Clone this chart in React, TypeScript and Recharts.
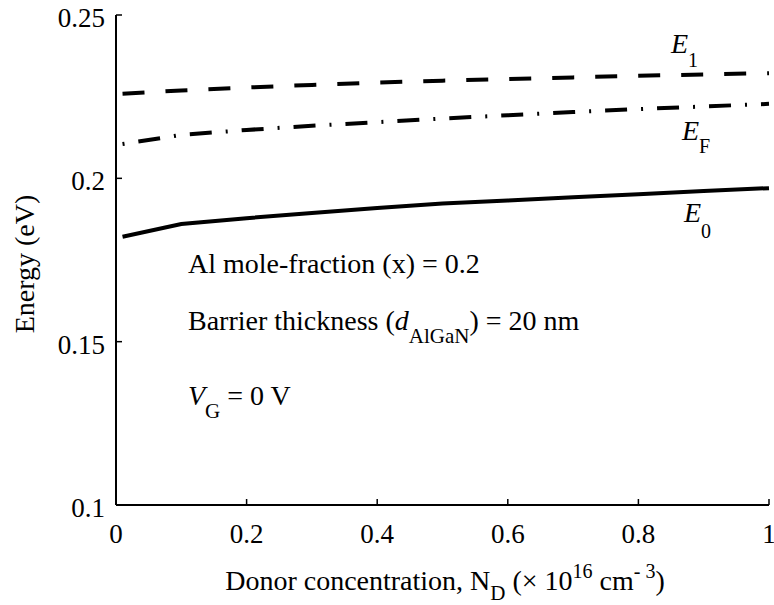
import { Line, LineChart, XAxis, YAxis } from 'recharts';

// donor concentration (x 10^16 cm^-3)
const donorConc = [0.01, 0.1, 0.2, 0.3, 0.4, 0.5, 0.6, 0.7, 0.8, 0.9, 1.0];

// energies in eV
const e1Values = [0.2259, 0.2269, 0.2278, 0.2286, 0.2293, 0.2299, 0.2304, 0.2309, 0.2314, 0.2318, 0.2322];
const efValues = [0.2105, 0.2133, 0.2148, 0.2161, 0.2172, 0.2183, 0.2193, 0.2203, 0.2212, 0.222, 0.2228];
const e0Values = [0.1821, 0.186, 0.1878, 0.1894, 0.1909, 0.1923, 0.1932, 0.1942, 0.1951, 0.1961, 0.197];

const xTicks = [0, 0.2, 0.4, 0.6, 0.8, 1];
const xTickLabels = ['0', '0.2', '0.4', '0.6', '0.8', '1'];
const yTicks = [0.1, 0.15, 0.2, 0.25];
const yTickLabels = ['0.1', '0.15', '0.2', '0.25'];

const data = donorConc.map((nd, i) => ({
    nd,
    e1: e1Values[i],
    ef: efValues[i],
    e0: e0Values[i],
}));

const FONT = "'Liberation Serif', 'Times New Roman', 'DejaVu Serif', serif";

function XTick({ x, y, payload }: any) {
    const i = xTicks.indexOf(payload.value);
    return (
        <text x={x} y={y} textAnchor="middle" fontFamily={FONT} fontSize={27} fill="#000">
            {i >= 0 ? xTickLabels[i] : payload.value}
        </text>
    );
}

function YTick({ x, y, payload }: any) {
    const i = yTicks.indexOf(payload.value);
    return (
        <text x={x} y={y + 12} textAnchor="end" fontFamily={FONT} fontSize={27} fill="#000">
            {i >= 0 ? yTickLabels[i] : payload.value}
        </text>
    );
}

export default function App() {
    const axisLine = { stroke: '#000', strokeWidth: 2 };
    const tickLine = { stroke: '#000', strokeWidth: 1.5 };
    return (
        <div style={{ position: 'absolute', left: 0, top: 0, width: 774, height: 605, background: '#fff' }}>
            <LineChart width={774} height={605} data={data} margin={{ top: 15, right: 5, bottom: 0, left: 0 }}>
                <XAxis
                    dataKey="nd"
                    type="number"
                    domain={[0, 1]}
                    ticks={xTicks}
                    height={100}
                    axisLine={axisLine}
                    tickLine={tickLine}
                    tickSize={-6}
                    tickMargin={44}
                    tick={<XTick />}
                    interval={0}
                />
                <XAxis
                    xAxisId="top"
                    orientation="top"
                    type="number"
                    domain={[0, 1]}
                    ticks={xTicks}
                    height={0}
                    axisLine={axisLine}
                    tickLine={tickLine}
                    tickSize={-6}
                    tick={false}
                    allowDataOverflow
                />
                <YAxis
                    type="number"
                    domain={[0.1, 0.25]}
                    ticks={yTicks}
                    width={116}
                    axisLine={axisLine}
                    tickLine={tickLine}
                    tickSize={-6}
                    tickMargin={17}
                    tick={<YTick />}
                    interval={0}
                    allowDataOverflow
                />
                <YAxis
                    yAxisId="right"
                    orientation="right"
                    type="number"
                    domain={[0.1, 0.25]}
                    ticks={yTicks}
                    width={0}
                    axisLine={axisLine}
                    tickLine={tickLine}
                    tickSize={-6}
                    tick={false}
                    allowDataOverflow
                />
                <Line
                    type="linear"
                    dataKey="e1"
                    stroke="#000"
                    strokeWidth={4}
                    strokeDasharray="22 21"
                    dot={false}
                    isAnimationActive={false}
                />
                <Line
                    type="linear"
                    dataKey="ef"
                    stroke="#000"
                    strokeWidth={4}
                    strokeDasharray="2 14 22 14"
                    dot={false}
                    isAnimationActive={false}
                />
                <Line
                    type="linear"
                    dataKey="e0"
                    stroke="#000"
                    strokeWidth={4}
                    dot={false}
                    isAnimationActive={false}
                />
            </LineChart>
            <svg
                width={774}
                height={605}
                style={{ position: 'absolute', left: 0, top: 0, pointerEvents: 'none' }}
                fontFamily={FONT}
                fill="#000"
            >
                {/* curve labels */}
                <text x={671} y={53} fontSize={28}>
                    <tspan fontStyle="italic">E</tspan>
                    <tspan fontSize={20} dy={14}>1</tspan>
                </text>
                <text x={682} y={140} fontSize={28}>
                    <tspan fontStyle="italic">E</tspan>
                    <tspan fontSize={20} dy={13}>F</tspan>
                </text>
                <text x={684} y={222} fontSize={28}>
                    <tspan fontStyle="italic">E</tspan>
                    <tspan fontSize={20} dy={16}>0</tspan>
                </text>

                {/* parameters */}
                <text x={188} y={273} fontSize={28}>Al mole-fraction (x) = 0.2</text>
                <text x={188} y={330} fontSize={28}>
                    Barrier thickness (<tspan fontStyle="italic">d</tspan>
                    <tspan fontSize={21} dy={13}>AlGaN</tspan>
                    <tspan dy={-13}>) = 20 nm</tspan>
                </text>
                <text x={188} y={405} fontSize={28}>
                    <tspan fontStyle="italic">V</tspan>
                    <tspan fontSize={21} dy={13}>G</tspan>
                    <tspan dy={-13}> = 0 V</tspan>
                </text>

                {/* axis titles */}
                <text x={445} y={590} fontSize={28} textAnchor="middle">
                    Donor concentration, N<tspan fontSize={21} dy={10}>D</tspan>
                    <tspan dy={-10}> (× 10</tspan>
                    <tspan fontSize={20} dy={-12}>16</tspan>
                    <tspan dy={12}> cm</tspan>
                    <tspan fontSize={20} dy={-12}>- 3</tspan>
                    <tspan dy={12}>)</tspan>
                </text>
                <text x={34} y={264} fontSize={28} textAnchor="middle" transform="rotate(-90 34 264)">
                    Energy (eV)
                </text>
            </svg>
        </div>
    );
}
